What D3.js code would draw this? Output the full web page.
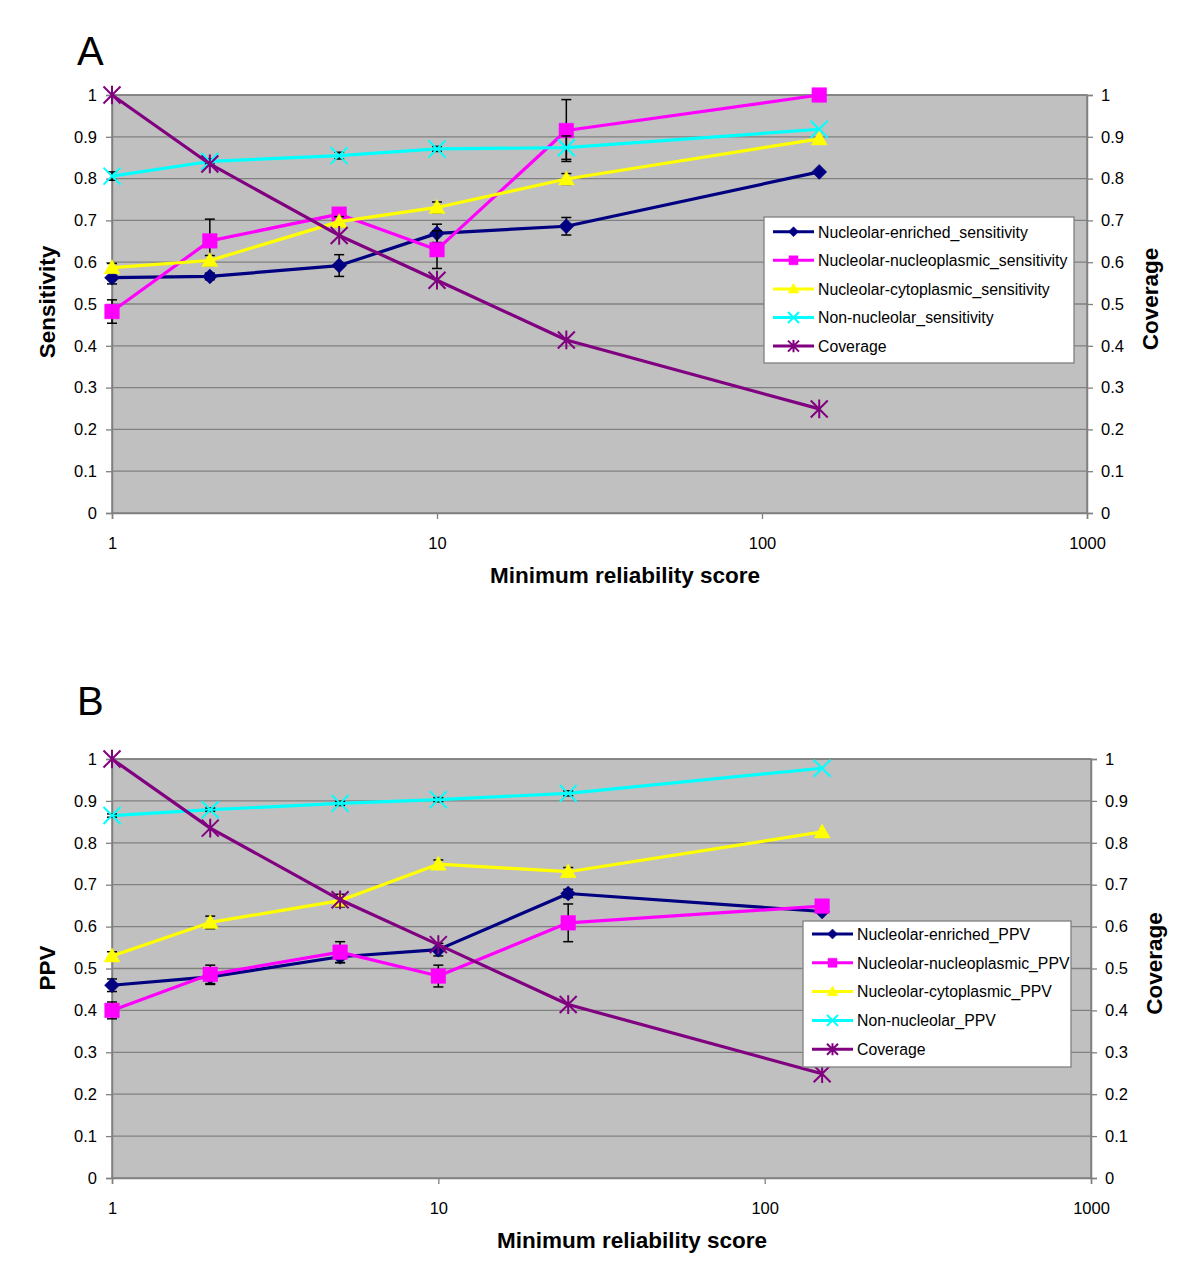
<!DOCTYPE html>
<html>
<head>
<meta charset="utf-8">
<script src="https://cdn.jsdelivr.net/npm/d3@7"></script>
<style>
  html, body { margin: 0; padding: 0; background: #ffffff; }
  svg { display: block; font-family: "Liberation Sans", Arial, sans-serif; }
</style>
</head>
<body>
<svg id="chart" width="1200" height="1275"></svg>
<script>
// ---------------- DATA ----------------
const xValues = [1, 2, 5, 10, 25, 150];
const xTickValues = [1, 10, 100, 1000];
const yTickValues = [0, 0.1, 0.2, 0.3, 0.4, 0.5, 0.6, 0.7, 0.8, 0.9, 1];

const coverage = [1.0, 0.835, 0.664, 0.557, 0.414, 0.249];

// Panel A – sensitivity
const enrichedSens = [0.563, 0.566, 0.592, 0.669, 0.686, 0.816];
const enrichedSensErr = [0.015, 0.008, 0.026, 0.022, 0.021, 0];
const nucleoplasmicSens = [0.482, 0.651, 0.715, 0.630, 0.915, 1.0];
const nucleoplasmicSensErr = [0.028, 0.052, 0.010, 0.045, 0.074, 0];
const cytoplasmicSens = [0.587, 0.604, 0.697, 0.731, 0.799, 0.895];
const cytoplasmicSensErr = [0.010, 0.012, 0.012, 0.013, 0.013, 0];
const nonNucleolarSens = [0.806, 0.841, 0.855, 0.871, 0.874, 0.918];
const nonNucleolarSensErr = [0.010, 0.006, 0.008, 0.006, 0.028, 0];

// Panel B – PPV
const enrichedPPV = [0.460, 0.480, 0.528, 0.545, 0.679, 0.636];
const enrichedPPVErr = [0.015, 0.018, 0.014, 0.015, 0.010, 0];
const nucleoplasmicPPV = [0.400, 0.486, 0.539, 0.482, 0.609, 0.649];
const nucleoplasmicPPVErr = [0.020, 0.022, 0.025, 0.026, 0.045, 0];
const cytoplasmicPPV = [0.530, 0.610, 0.662, 0.749, 0.731, 0.826];
const cytoplasmicPPVErr = [0.010, 0.015, 0.015, 0.010, 0.010, 0];
const nonNucleolarPPV = [0.865, 0.879, 0.894, 0.903, 0.918, 0.978];
const nonNucleolarPPVErr = [0.004, 0.004, 0.005, 0.005, 0.006, 0];

const namesA = ["Nucleolar-enriched_sensitivity", "Nucleolar-nucleoplasmic_sensitivity",
  "Nucleolar-cytoplasmic_sensitivity", "Non-nucleolar_sensitivity", "Coverage"];
const namesB = ["Nucleolar-enriched_PPV", "Nucleolar-nucleoplasmic_PPV",
  "Nucleolar-cytoplasmic_PPV", "Non-nucleolar_PPV", "Coverage"];

const colors = ["#000080", "#ff00ff", "#ffff00", "#00ffff", "#800080"];
const markers = ["diamond", "square", "triangle", "x", "star"];

// ---------------- DRAWING ----------------
const svg = d3.select("#chart");
const FONT = '"Liberation Sans", Arial, sans-serif';

function markerPath(type, r) {
  switch (type) {
    case "diamond": return `M0,${-r}L${r},0L0,${r}L${-r},0Z`;
    case "square": return `M${-r},${-r}H${r}V${r}H${-r}Z`;
    case "triangle": return `M0,${-r}L${r},${r * 0.75}L${-r},${r * 0.75}Z`;
    case "x": return `M${-r},${-r}L${r},${r}M${-r},${r}L${r},${-r}`;
    case "star": return `M${-r},${-r}L${r},${r}M${-r},${r}L${r},${-r}M0,${-r * 1.1}L0,${r * 1.1}`;
  }
}
const markerR = { diamond: 7.5, square: 7.3, triangle: 8, x: 8.5, star: 8.5 };
const legendR = { diamond: 5, square: 4.5, triangle: 5.5, x: 5.5, star: 5.5 };

function drawMarker(g, type, color, x, y, r) {
  const filled = (type === "diamond" || type === "square" || type === "triangle");
  g.append("path")
    .attr("d", markerPath(type, r))
    .attr("transform", `translate(${x},${y})`)
    .attr("fill", filled ? color : "none")
    .attr("stroke", color)
    .attr("stroke-width", filled ? 0.5 : 2);
}

function drawPanel(cfg) {
  const x = d3.scaleLog().domain([1, 1000]).range([cfg.left, cfg.right]);
  const y = d3.scaleLinear().domain([0, 1]).range([cfg.bottom, cfg.top]);
  const g = svg.append("g");

  // plot background
  g.append("rect").attr("x", cfg.left).attr("y", cfg.top)
    .attr("width", cfg.right - cfg.left).attr("height", cfg.bottom - cfg.top)
    .attr("fill", "#c0c0c0").attr("stroke", "#808080").attr("stroke-width", 1.5);

  // gridlines
  g.selectAll(".grid").data(yTickValues.filter(v => v > 0)).enter().append("line")
    .attr("x1", cfg.left).attr("x2", cfg.right)
    .attr("y1", d => y(d)).attr("y2", d => y(d))
    .attr("stroke", "#808080").attr("stroke-width", 1.3);

  // axes
  const yAxisL = d3.axisLeft(y).tickValues(yTickValues).tickSize(6).tickPadding(9)
    .tickFormat(d => d3.format("")(+d.toFixed(1)));
  const gl = g.append("g").attr("transform", `translate(${cfg.left},0)`).call(yAxisL);
  const yAxisR = d3.axisRight(y).tickValues(yTickValues).tickSize(6).tickPadding(8)
    .tickFormat(d => d3.format("")(+d.toFixed(1)));
  const gr = g.append("g").attr("transform", `translate(${cfg.right},0)`).call(yAxisR);
  const xAxis = d3.axisBottom(x).tickValues(xTickValues).tickSize(6).tickPadding(18)
    .tickFormat(d3.format("d"));
  const gx = g.append("g").attr("transform", `translate(0,${cfg.bottom})`).call(xAxis);
  [gl, gr, gx].forEach(a => {
    a.select(".domain").attr("stroke", "#808080").attr("stroke-width", 1.5);
    a.selectAll(".tick line").attr("stroke", "#808080").attr("stroke-width", 1.3);
    a.selectAll("text").attr("font-size", 16.5).attr("font-family", FONT).attr("fill", "#000");
  });

  // series
  const series = cfg.values.map((vals, i) => ({
    vals, err: cfg.errs[i], color: colors[i], marker: markers[i]
  }));
  const line = d3.line().x((d, j) => x(xValues[j])).y(d => y(d));
  series.forEach(s => {
    g.append("path").attr("d", line(s.vals)).attr("fill", "none")
      .attr("stroke", s.color).attr("stroke-width", 3.2).attr("stroke-linejoin", "round");
    if (s.err) {
      s.vals.forEach((v, j) => {
        const e = s.err[j];
        if (!e) return;
        const cx = x(xValues[j]);
        const eg = g.append("g").attr("stroke", "#000").attr("stroke-width", 1.5);
        eg.append("line").attr("x1", cx).attr("x2", cx).attr("y1", y(v - e)).attr("y2", y(v + e));
        eg.append("line").attr("x1", cx - 5).attr("x2", cx + 5).attr("y1", y(v - e)).attr("y2", y(v - e));
        eg.append("line").attr("x1", cx - 5).attr("x2", cx + 5).attr("y1", y(v + e)).attr("y2", y(v + e));
      });
    }
    s.vals.forEach((v, j) => drawMarker(g, s.marker, s.color, x(xValues[j]), y(v), markerR[s.marker]));
  });

  // legend
  const L = cfg.legend;
  g.append("rect").attr("x", L.x).attr("y", L.y).attr("width", L.w).attr("height", L.h)
    .attr("fill", "#fff").attr("stroke", "#808080").attr("stroke-width", 1.3);
  cfg.names.forEach((name, i) => {
    const ry = L.y + L.first + i * L.step;
    g.append("line").attr("x1", L.x + 9).attr("x2", L.x + 50).attr("y1", ry).attr("y2", ry)
      .attr("stroke", colors[i]).attr("stroke-width", 3);
    drawMarker(g, markers[i], colors[i], L.x + 29.5, ry, legendR[markers[i]]);
    g.append("text").attr("x", L.x + 54).attr("y", ry + 5.8).text(name)
      .attr("font-size", 15.8).attr("font-family", FONT).attr("fill", "#000");
  });

  // titles
  g.append("text").attr("x", cfg.letterX).attr("y", cfg.letterY).text(cfg.letter)
    .attr("font-size", 40).attr("font-family", FONT);
  const midY = (cfg.top + cfg.bottom) / 2;
  g.append("text").attr("transform", `translate(55,${cfg.yTitleCenter}) rotate(-90)`)
    .attr("text-anchor", "middle").attr("font-size", 22.5).attr("font-weight", "bold")
    .attr("font-family", FONT).text(cfg.yTitle);
  g.append("text").attr("transform", `translate(${cfg.right + 71},${midY - 5}) rotate(-90)`)
    .attr("text-anchor", "middle").attr("font-size", 22.5).attr("font-weight", "bold")
    .attr("font-family", FONT).text("Coverage");
  g.append("text").attr("x", cfg.xTitleX).attr("y", cfg.xTitleY).attr("text-anchor", "middle")
    .attr("font-size", 22.5).attr("font-weight", "bold").attr("font-family", FONT)
    .text("Minimum reliability score");
}

drawPanel({
  left: 112, right: 1087, top: 95, bottom: 513,
  letter: "A", letterX: 77, letterY: 65,
  yTitle: "Sensitivity", yTitleCenter: 302,
  xTitleX: 625, xTitleY: 583,
  names: namesA,
  values: [enrichedSens, nucleoplasmicSens, cytoplasmicSens, nonNucleolarSens, coverage],
  errs: [enrichedSensErr, nucleoplasmicSensErr, cytoplasmicSensErr, nonNucleolarSensErr, null],
  legend: { x: 764, y: 217, w: 310, h: 146, first: 14.7, step: 28.6 }
});

drawPanel({
  left: 112, right: 1091, top: 759, bottom: 1178,
  letter: "B", letterX: 77, letterY: 715,
  yTitle: "PPV", yTitleCenter: 968,
  xTitleX: 632, xTitleY: 1248,
  names: namesB,
  values: [enrichedPPV, nucleoplasmicPPV, cytoplasmicPPV, nonNucleolarPPV, coverage],
  errs: [enrichedPPVErr, nucleoplasmicPPVErr, cytoplasmicPPVErr, nonNucleolarPPVErr, null],
  legend: { x: 803, y: 921, w: 268, h: 146, first: 13, step: 28.8 }
});
</script>
</body>
</html>
